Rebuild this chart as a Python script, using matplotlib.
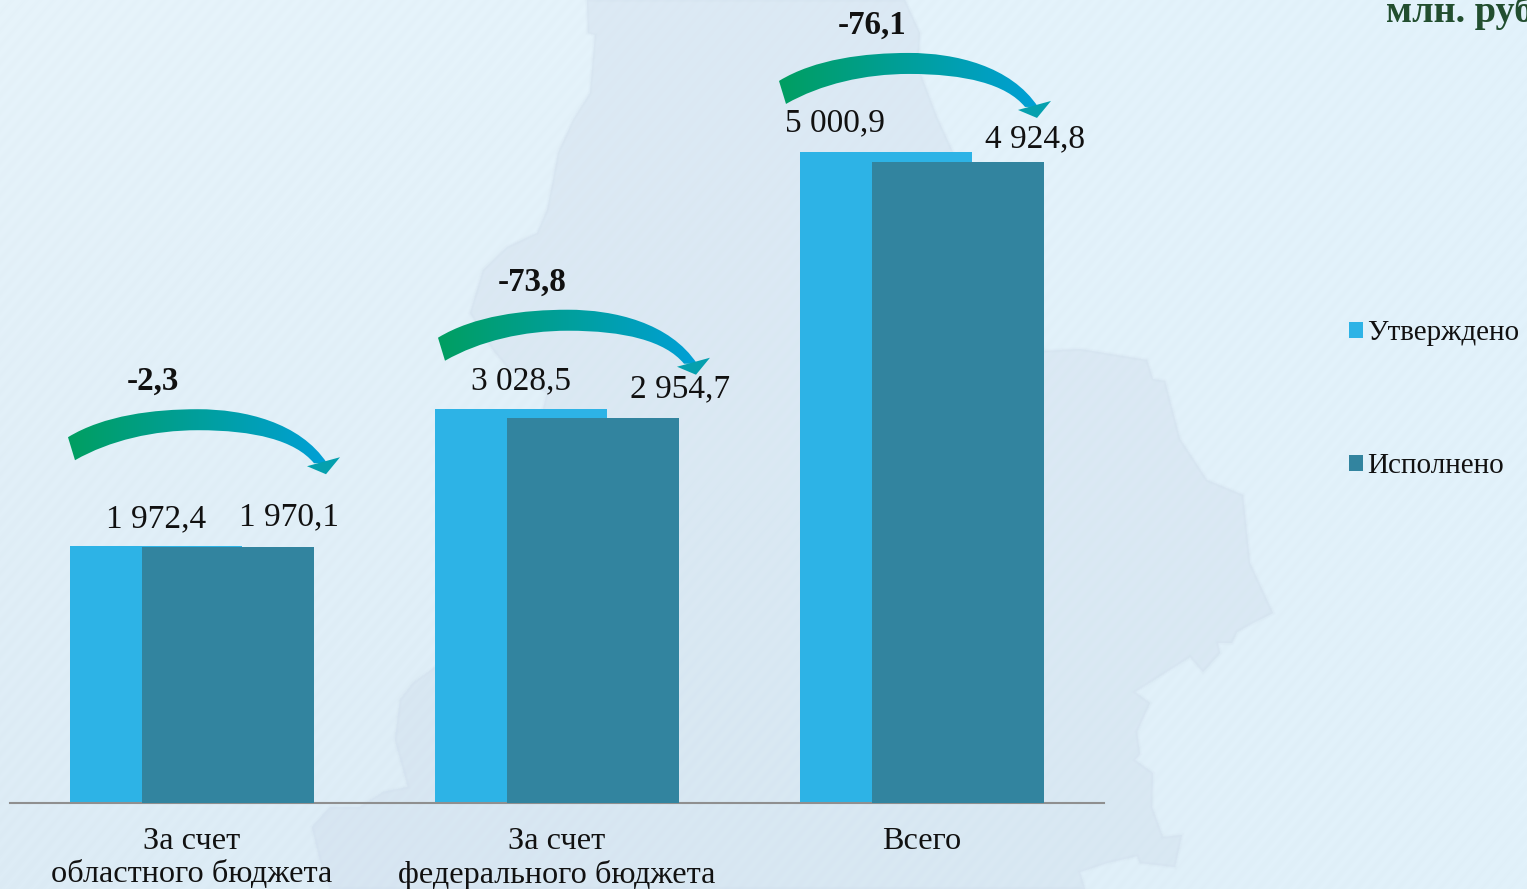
import numpy as np
import matplotlib
matplotlib.use("Agg")
import matplotlib.pyplot as plt
from matplotlib.path import Path
from matplotlib.patches import PathPatch, Polygon

W, H = 1527, 889

categories = ["За счет\nобластного бюджета", "За счет\nфедерального бюджета", "Всего"]
approved = [1972.4, 3028.5, 5000.9]
executed = [1970.1, 2954.7, 4924.8]
approved_labels = ["1 972,4", "3 028,5", "5 000,9"]
executed_labels = ["1 970,1", "2 954,7", "4 924,8"]
diff_labels = ["-2,3", "-73,8", "-76,1"]
series_names = ["Утверждено", "Исполнено"]

BLUE = "#2db3e6"
TEAL = "#32849f"
FONT = "Liberation Serif"

plt.rcParams["font.family"] = [FONT, "DejaVu Serif"]

fig = plt.figure(figsize=(W / 100, H / 100), dpi=100)

# background: soft gradient, faint diagonal stripes, map silhouette
bg_ax = fig.add_axes([0, 0, 1, 1], zorder=0)
yy, xx = np.mgrid[0:H, 0:W]
u, v = xx / W, yy / H
corners = np.array([[230, 243, 250], [226, 242, 251], [220, 235, 245], [225, 241, 250]], dtype=float)
bg = ((1 - u) * (1 - v))[..., None] * corners[0] + (u * (1 - v))[..., None] * corners[1] \
    + ((1 - u) * v)[..., None] * corners[2] + (u * v)[..., None] * corners[3]
bg += (1.0 * np.sin(2 * np.pi * (xx + yy * 0.85) / 14))[..., None]
bg_ax.imshow(np.clip(bg, 0, 255) / 255, extent=[0, W, H, 0], aspect="auto", interpolation="bilinear")

map_outline = [(587, 0), (588, 33), (595, 35), (590, 93), (573, 120), (558, 153), (553, 180), (547, 210),
               (537, 233), (507, 247), (483, 270), (470, 313), (493, 350), (507, 367), (547, 393), (520, 500),
               (470, 640), (435, 667), (413, 683), (400, 700), (395, 740), (408, 787), (383, 792), (360, 807),
               (330, 807), (312, 827), (320, 860), (330, 889), (1085, 889), (1080, 872), (1107, 863),
               (1137, 856), (1140, 863), (1175, 867), (1182, 835), (1163, 837), (1152, 807), (1153, 773),
               (1135, 760), (1140, 754), (1137, 732), (1150, 703), (1135, 692), (1190, 657), (1203, 672),
               (1220, 653), (1218, 643), (1232, 643), (1237, 632), (1253, 623), (1273, 613), (1250, 563),
               (1243, 495), (1207, 480), (1180, 439), (1165, 381), (1153, 379), (1147, 360), (1080, 349),
               (1044, 351), (952, 150), (937, 117), (918, 67), (920, 33), (905, 0)]
# stacked strokes so the silhouette edge stays soft
for lw, a in [(3, 0.10), (1.5, 0.10), (0, 0.20)]:
    bg_ax.add_patch(Polygon(map_outline, closed=True, facecolor="#cfdcec", edgecolor="#cfdcec", linewidth=lw, alpha=a))
bg_ax.set_xlim(0, W)
bg_ax.set_ylim(H, 0)
bg_ax.axis("off")

# chart
ax = fig.add_axes([10 / W, (H - 803) / H, 1094 / W, 803 / H], zorder=1)
ax.patch.set_alpha(0)
x = np.arange(len(categories))
bar_w = 172 / 365
shift = 36 / 365
bars_a = ax.bar(x - shift, approved, bar_w, color=BLUE, label=series_names[0], zorder=2)
bars_e = ax.bar(x + shift, executed, bar_w, color=TEAL, label=series_names[1], zorder=3)
ax.set_xlim(-182 / 365, 912 / 365)
ax.set_ylim(0, 6168)
ax.set_yticks([])
ax.set_xticks(x)
ax.set_xticklabels(categories, fontsize=23.2, linespacing=1.18, color="#111111")
ax.tick_params(axis="x", length=0, pad=17)
for s in ["top", "left", "right"]:
    ax.spines[s].set_visible(False)
ax.spines["bottom"].set_color("#8f8f8f")
ax.spines["bottom"].set_linewidth(1.5)

# value labels, offsets in pixels from the bar's top centre
a_off = [(0, 27), (0, 28), (-51, 29)]
e_off = [(61, 29), (87, 29), (77, 23)]
for i in range(len(categories)):
    ax.annotate(approved_labels[i], (x[i] - shift, approved[i]), xytext=a_off[i], textcoords="offset pixels",
                ha="center", va="center", fontsize=24, color="#111111", zorder=5)
    ax.annotate(executed_labels[i], (x[i] + shift, executed[i]), xytext=e_off[i], textcoords="offset pixels",
                ha="center", va="center", fontsize=24, color="#111111", zorder=5)

# curved arrows, placed relative to the approved bar of each group
top_ax = fig.add_axes([0, 0, 1, 1], zorder=2)
top_ax.set_xlim(0, W)
top_ax.set_ylim(H, 0)
top_ax.axis("off")
top_ax.patch.set_alpha(0)

arrow_dx = [-124, -119, -143]
arrow_lift = [109, 71, 71]
diff_off = [(-39, 165), (-25, 126), (-50, 127)]
ramp = np.linspace(0, 1, 128)[None, :, None]
ramp_img = np.array([0, 158, 97]) / 255 * (1 - ramp) + np.array([0, 160, 216]) / 255 * ramp

body = [(0, 0), (36, -22), (86, -28), (130, -28), (176, -28), (232, -15), (259, 26),
        (246, 26), (227, 3), (186, -7), (130, -7), (86, -7), (42, 3), (7, 23), (0, 0)]
body_codes = [Path.MOVETO, Path.CURVE4, Path.CURVE4, Path.CURVE4, Path.CURVE4, Path.CURVE4, Path.CURVE4,
              Path.LINETO, Path.CURVE4, Path.CURVE4, Path.CURVE4, Path.CURVE4, Path.CURVE4, Path.CURVE4, Path.CLOSEPOLY]
head = [(239, 29), (272, 20), (258, 37)]

for i in range(len(categories)):
    px, py = ax.transData.transform((x[i], approved[i]))
    sx, sy = px + arrow_dx[i], H - py - arrow_lift[i]
    verts = np.array(body, dtype=float) + [sx, sy]
    patch = PathPatch(Path(verts, body_codes), transform=top_ax.transData, facecolor="none", edgecolor="none")
    top_ax.add_patch(patch)
    im = top_ax.imshow(ramp_img, extent=[sx, sx + 262, sy + 40, sy - 30], aspect="auto", zorder=3)
    im.set_clip_path(patch)
    top_ax.add_patch(Polygon(np.array(head, dtype=float) + [sx, sy], closed=True, facecolor="#05a0ae", edgecolor="none", zorder=4))
    ax.annotate(diff_labels[i], (x[i], approved[i]), xytext=diff_off[i], textcoords="offset pixels",
                ha="center", va="center", fontsize=23.8, fontweight="bold", color="#111111", zorder=5)
top_ax.set_xlim(0, W)
top_ax.set_ylim(H, 0)

fig.legend(handles=[bars_a, bars_e], labels=series_names, loc="upper left", bbox_to_anchor=(1349 / W, 1 - 320 / H),
           frameon=False, fontsize=21, handlelength=0.48, handleheight=0.48, handletextpad=0.15, labelspacing=3.68,
           borderpad=0, borderaxespad=0, labelcolor="#111111")

fig.text(1386 / W, 1 - 22 / H, "млн. руб.", fontsize=27.5, fontweight="bold", color="#224e2f", ha="left", va="baseline")

fig.savefig("out.png", dpi=100)
